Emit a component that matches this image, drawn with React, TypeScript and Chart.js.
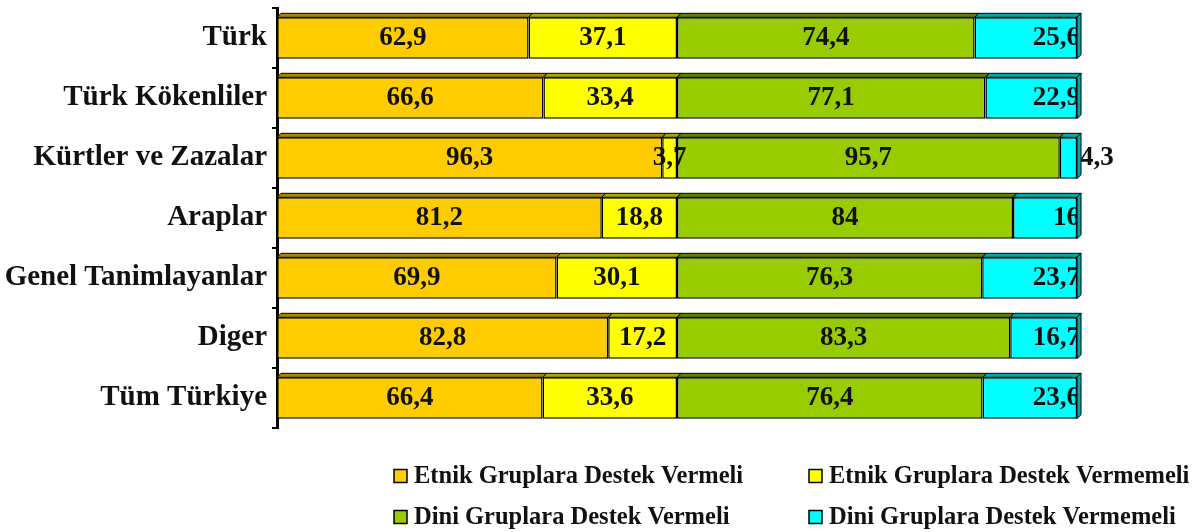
import React, { useEffect, useRef } from "react";
import { Chart, registerables } from "chart.js";

Chart.register(...registerables);

const categories = [
  "Türk",
  "Türk Kökenliler",
  "Kürtler ve Zazalar",
  "Araplar",
  "Genel Tanimlayanlar",
  "Diger",
  "Tüm Türkiye",
];

const seriesNames = [
  "Etnik Gruplara Destek Vermeli",
  "Etnik Gruplara Destek Vermemeli",
  "Dini Gruplara Destek Vermeli",
  "Dini Gruplara Destek Vermemeli",
];

const etnikVermeli = [62.9, 66.6, 96.3, 81.2, 69.9, 82.8, 66.4];
const etnikVermemeli = [37.1, 33.4, 3.7, 18.8, 30.1, 17.2, 33.6];
const diniVermeli = [74.4, 77.1, 95.7, 84, 76.3, 83.3, 76.4];
const diniVermemeli = [25.6, 22.9, 4.3, 16, 23.7, 16.7, 23.6];

const colors = ["#FFCC00", "#FFFF00", "#99CC00", "#00FFFF"];
const darkColors = ["#A88600", "#A8A800", "#5F8000", "#00A8A8"];

const FONT = "'Liberation Serif', 'Times New Roman', serif";

const depthPlugin = {
  id: "depth3d",
  afterDatasetsDraw(chart: any) {
    const ctx = chart.ctx;
    const d = 4;
    chart.data.datasets.forEach((ds: any, di: number) => {
      const meta = chart.getDatasetMeta(di);
      meta.data.forEach((bar: any) => {
        const left = bar.base;
        const right = bar.x;
        const top = bar.y - bar.height / 2;
        const bottom = bar.y + bar.height / 2;
        ctx.save();
        ctx.fillStyle = darkColors[di];
        ctx.strokeStyle = "#000";
        ctx.lineWidth = 1;
        ctx.beginPath();
        ctx.moveTo(left, top);
        ctx.lineTo(left + d, top - d);
        ctx.lineTo(right + d, top - d);
        ctx.lineTo(right, top);
        ctx.closePath();
        ctx.fill();
        ctx.stroke();
        if (di === chart.data.datasets.length - 1) {
          ctx.beginPath();
          ctx.moveTo(right, top);
          ctx.lineTo(right + d, top - d);
          ctx.lineTo(right + d, bottom - d);
          ctx.lineTo(right, bottom);
          ctx.closePath();
          ctx.fill();
          ctx.stroke();
        }
        ctx.restore();
      });
    });
  },
};

const labelPlugin = {
  id: "valueLabels",
  afterDatasetsDraw(chart: any) {
    const ctx = chart.ctx;
    ctx.save();
    ctx.font = `bold 27px ${FONT}`;
    ctx.fillStyle = "#111";
    ctx.textBaseline = "middle";
    chart.data.datasets.forEach((ds: any, di: number) => {
      const meta = chart.getDatasetMeta(di);
      meta.data.forEach((bar: any, i: number) => {
        const v = ds.data[i];
        const txt = String(v).replace(".", ",");
        const left = bar.base;
        const right = bar.x;
        const w = ctx.measureText(txt).width;
        if (di === chart.data.datasets.length - 1) {
          if (w > (right - left) * 1.5) {
            ctx.textAlign = "left";
            ctx.fillText(txt, right + 3, bar.y);
          } else {
            ctx.textAlign = "right";
            ctx.fillText(txt, right + 3, bar.y);
          }
        } else {
          ctx.textAlign = "center";
          ctx.fillText(txt, (left + right) / 2, bar.y);
        }
      });
    });
    ctx.restore();
  },
};

const legendPlugin = {
  id: "gridLegend",
  afterDraw(chart: any) {
    const ctx = chart.ctx;
    const cols = [394, 809];
    const rows = [476, 517];
    ctx.save();
    ctx.font = `bold 24.5px ${FONT}`;
    ctx.textBaseline = "middle";
    ctx.textAlign = "left";
    chart.data.datasets.forEach((ds: any, di: number) => {
      const x = cols[di % 2];
      const y = rows[Math.floor(di / 2)];
      ctx.fillStyle = ds.backgroundColor;
      ctx.fillRect(x, y - 6.5, 13, 13);
      ctx.strokeStyle = "#000";
      ctx.lineWidth = 1.5;
      ctx.strokeRect(x, y - 6.5, 13, 13);
      ctx.fillStyle = "#111";
      ctx.fillText(ds.label, x + 20, y + 1);
    });
    ctx.restore();
  },
};

export default function App() {
  const ref = useRef<HTMLCanvasElement>(null);
  useEffect(() => {
    if (!ref.current) return;
    const series = [etnikVermeli, etnikVermemeli, diniVermeli, diniVermemeli];
    const chart = new Chart(ref.current, {
      type: "bar",
      data: {
        labels: categories,
        datasets: series.map((data, i) => ({
          label: seriesNames[i],
          data,
          backgroundColor: colors[i],
          borderColor: "#000",
          borderWidth: 1.5,
          borderSkipped: false,
          categoryPercentage: 1,
          barPercentage: 0.69,
        })),
      },
      options: {
        indexAxis: "y",
        animation: false,
        responsive: false,
        maintainAspectRatio: false,
        layout: { padding: { top: 8, right: 123, bottom: 104, left: 0 } },
        plugins: {
          legend: { display: false },
          tooltip: { enabled: false },
        },
        scales: {
          x: { stacked: true, min: 0, max: 200, display: false },
          y: {
            stacked: true,
            afterFit(scale: any) {
              scale.width = 277;
              scale.paddingTop = 0;
              scale.paddingBottom = 0;
            },
            border: { display: true, color: "#000", width: 3 },
            grid: {
              offset: true,
              drawOnChartArea: false,
              drawTicks: true,
              tickLength: 5,
              color: "#000",
              lineWidth: 2,
            },
            ticks: {
              color: "#111",
              padding: 5,
              font: { family: FONT, size: 29, weight: "bold" },
            },
          },
        },
      },
      plugins: [labelPlugin, depthPlugin, legendPlugin],
    });
    return () => chart.destroy();
  }, []);
  return (
    <div style={{ position: "fixed", left: 0, top: 0, width: 1200, height: 532, background: "#fff" }}>
      <canvas ref={ref} width={1200} height={532} style={{ width: 1200, height: 532 }} />
    </div>
  );
}
